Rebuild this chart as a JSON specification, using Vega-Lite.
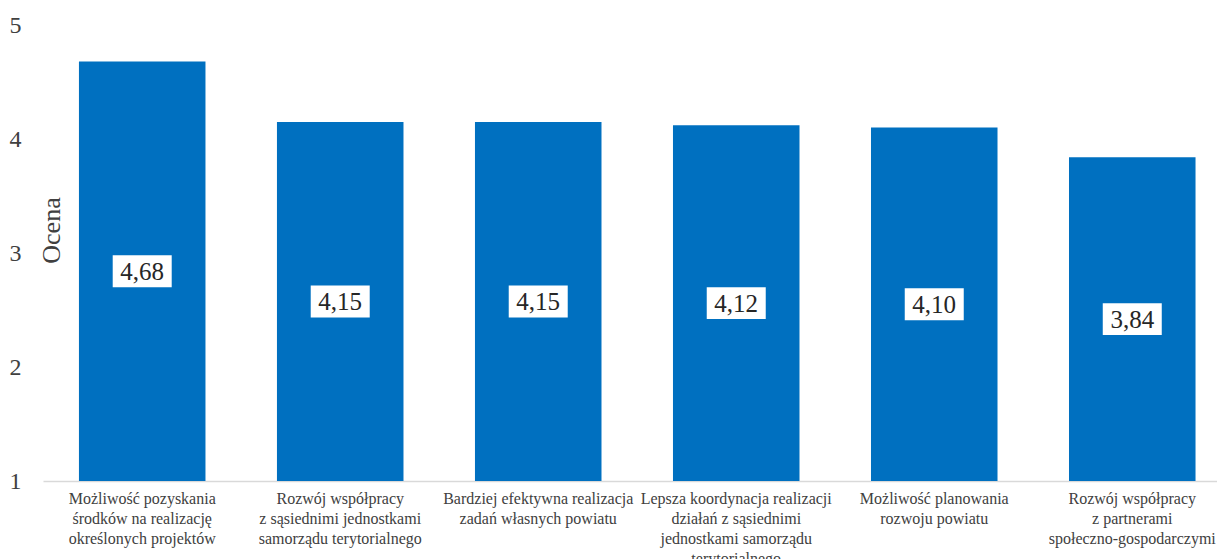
{
  "$schema": "https://vega.github.io/schema/vega-lite/v6.json",
  "autosize": {"type": "none"},
  "padding": {"left": 43, "top": 25, "right": 0, "bottom": 78},
  "width": 1174,
  "height": 456,
  "config": {
    "view": {"stroke": null},
    "font": "'Liberation Serif', 'Times New Roman', 'DejaVu Serif', serif",
    "axis": {"labelFont": "'Liberation Serif', 'Times New Roman', 'DejaVu Serif', serif", "titleFont": "'Liberation Serif', 'Times New Roman', 'DejaVu Serif', serif"},
    "text": {"font": "'Liberation Serif', 'Times New Roman', 'DejaVu Serif', serif"},
    "locale": {"number": {"decimal": ",", "thousands": " ", "grouping": [3], "currency": ["", " zł"]}}
  },
  "data": {
    "values": [
      {"kategoria": "Możliwość pozyskania|środków na realizację|określonych projektów", "ocena": 4.68},
      {"kategoria": "Rozwój współpracy|z sąsiednimi jednostkami|samorządu terytorialnego", "ocena": 4.15},
      {"kategoria": "Bardziej efektywna realizacja|zadań własnych powiatu", "ocena": 4.15},
      {"kategoria": "Lepsza koordynacja realizacji|działań z sąsiednimi|jednostkami samorządu|terytorialnego", "ocena": 4.12},
      {"kategoria": "Możliwość planowania|rozwoju powiatu", "ocena": 4.10},
      {"kategoria": "Rozwój współpracy|z partnerami|społeczno-gospodarczymi", "ocena": 3.84}
    ]
  },
  "encoding": {
    "x": {
      "field": "kategoria",
      "type": "nominal",
      "sort": null,
      "scale": {"paddingInner": 0.361, "paddingOuter": 0.145, "align": 0.626},
      "axis": {
        "title": null,
        "labelAngle": 0,
        "labelExpr": "split(datum.label, '|')",
        "labelFontSize": 16,
        "labelLineHeight": 20,
        "labelColor": "#404040",
        "labelPadding": 9,
        "labelBaseline": "top",
        "labelLimit": 300,
        "ticks": false,
        "domainColor": "#d9d9d9",
        "domainWidth": 1.5
      }
    }
  },
  "layer": [
    {
      "mark": {"type": "bar", "color": "#0070C0"},
      "encoding": {
        "y": {
          "field": "ocena",
          "type": "quantitative",
          "scale": {"domain": [1, 5], "zero": false, "nice": false},
          "axis": {
            "title": "Ocena",
            "titleFontSize": 26,
            "titleFontWeight": "normal",
            "titleColor": "#404040",
            "titleAngle": -90,
            "titleX": 16,
            "titleY": 205,
            "titleAlign": "center",
            "titleBaseline": "alphabetic",
            "values": [1, 2, 3, 4, 5],
            "format": "d",
            "labelFontSize": 24,
            "labelColor": "#404040",
            "labelPadding": 22,
            "ticks": false,
            "domain": false,
            "grid": false
          }
        },
        "y2": {"datum": 1}
      }
    },
    {
      "mark": {"type": "point", "shape": "M-1,-0.54L1,-0.54L1,0.54L-1,0.54Z", "filled": true, "color": "white", "opacity": 1, "size": 3481},
      "encoding": {
        "y": {"field": "ocena", "type": "quantitative", "scale": {"domain": [1, 9], "zero": false, "nice": false}, "axis": null}
      }
    },
    {
      "mark": {"type": "text", "fontSize": 25, "color": "#262626", "baseline": "middle", "align": "center", "dy": 1},
      "encoding": {
        "y": {"field": "ocena", "type": "quantitative", "scale": {"domain": [1, 9], "zero": false, "nice": false}, "axis": null},
        "text": {"field": "ocena", "type": "quantitative", "format": ".2f"}
      }
    }
  ],
  "resolve": {"scale": {"y": "independent"}}
}
